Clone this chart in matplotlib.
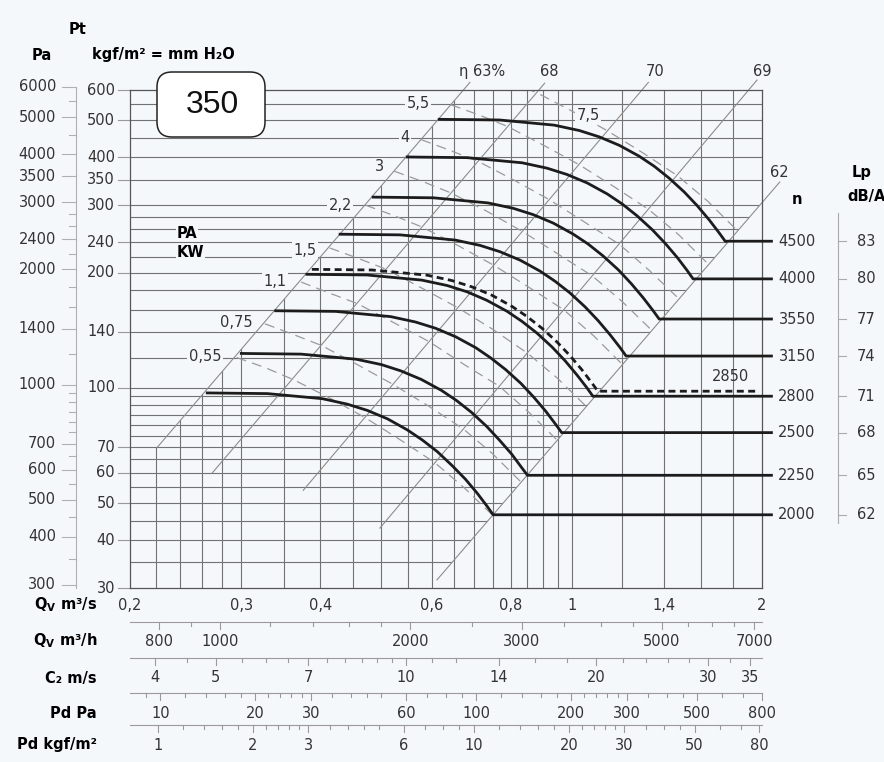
import numpy as np
import matplotlib
matplotlib.use('Agg')
import matplotlib.pyplot as plt
from matplotlib.patches import Polygon, FancyBboxPatch
from matplotlib.transforms import blended_transform_factory

plt.rcParams['font.family'] = 'DejaVu Sans'

W, H = 884, 762
BG = '#f5f8fb'
INK = '#1c1c1c'
TXT = '#333333'
GRID = '#727272'
SCALE = '#9a9a9a'

# --- curvas caracteristicas: Qv [m3/s], Pt [kgf/m2]
rpm = [4500, 4000, 3550, 3150, 2800, 2500, 2250, 2000]
lp_dba = [83, 80, 77, 74, 71, 68, 65, 62]

q_4500 = [0.617, 0.768, 0.938, 1.028, 1.105, 1.189, 1.279, 1.351, 1.426, 1.507,
          1.580, 1.650, 1.711, 1.749]
p_4500 = [503, 501, 485.7, 470.2, 452.7, 430.2, 402.8, 379.1, 353.0, 324.7,
          299.0, 274.7, 254.0, 241.6]
q_4000 = [0.549, 0.683, 0.835, 0.914, 0.983, 1.058, 1.138, 1.202, 1.269, 1.341,
          1.406, 1.469, 1.523, 1.556]
p_4000 = [401, 399.4, 387.2, 374.9, 360.9, 343.0, 321.1, 302.2, 281.4, 258.9,
          238.4, 219.0, 202.5, 192.6]
q_3550 = [0.485, 0.604, 0.737, 0.808, 0.869, 0.935, 1.005, 1.062, 1.121, 1.185,
          1.242, 1.297, 1.345, 1.375]
p_3550 = [315, 313.7, 304.2, 294.5, 283.5, 269.4, 252.2, 237.4, 221.1, 203.4,
          187.2, 172.0, 159.1, 151.3]
q_3150 = [0.430, 0.535, 0.654, 0.716, 0.770, 0.829, 0.891, 0.941, 0.994, 1.050,
          1.101, 1.150, 1.193, 1.219]
p_3150 = [252, 251.0, 243.3, 235.6, 226.8, 215.5, 201.8, 189.9, 176.9, 162.7,
          149.8, 137.6, 127.3, 121.1]
q_2800 = [0.381, 0.474, 0.579, 0.635, 0.683, 0.734, 0.790, 0.834, 0.881, 0.931,
          0.976, 1.019, 1.057, 1.080]
p_2800 = [198, 197.2, 191.2, 185.1, 178.2, 169.3, 158.5, 149.2, 139.0, 127.8,
          117.7, 108.1, 100.0, 95.1]
q_2500 = [0.340, 0.423, 0.517, 0.566, 0.609, 0.655, 0.705, 0.744, 0.786, 0.831,
          0.871, 0.910, 0.943, 0.964]
p_2500 = [159, 158.4, 153.5, 148.6, 143.1, 136.0, 127.3, 119.8, 111.6, 102.7,
          94.5, 86.8, 80.3, 76.4]
q_2250 = [0.300, 0.373, 0.456, 0.500, 0.537, 0.578, 0.622, 0.657, 0.694, 0.733,
          0.768, 0.803, 0.832, 0.851]
p_2250 = [123, 122.5, 118.8, 115.0, 110.7, 105.2, 98.5, 92.7, 86.3, 79.4,
          73.1, 67.2, 62.1, 59.1]
q_2000 = [0.265, 0.330, 0.403, 0.441, 0.475, 0.511, 0.549, 0.580, 0.613, 0.647,
          0.679, 0.709, 0.735, 0.751]
p_2000 = [97, 96.6, 93.7, 90.7, 87.3, 83.0, 77.7, 73.1, 68.1, 62.6,
          57.7, 53.0, 49.0, 46.6]

# curva a 2850 rpm (trazo discontinuo)
q_2850 = [0.388, 0.483, 0.590, 0.646, 0.695, 0.748, 0.804, 0.849, 0.897, 0.948,
          0.994, 1.038, 1.076, 1.100]
p_2850 = [204, 203.2, 197.0, 190.7, 183.6, 174.5, 163.3, 153.7, 143.2, 131.7,
          121.3, 111.4, 103.0, 98.0]

# --- potencia absorbida (kW), lineas discontinuas grises
q_kw055 = [0.295, 0.327, 0.363, 0.414, 0.471, 0.535, 0.607, 0.676, 0.748]
p_kw055 = [120, 113, 105, 94.1, 83.6, 73.2, 63.8, 54.8, 46.6]
q_kw075 = [0.327, 0.362, 0.402, 0.458, 0.522, 0.593, 0.673, 0.750, 0.829]
p_kw075 = [147, 138, 129, 115, 102, 89.7, 78.2, 67.2, 57.0]
q_kw11 = [0.373, 0.413, 0.458, 0.523, 0.595, 0.676, 0.768, 0.855, 0.946]
p_kw11 = [189, 177, 166, 148, 132, 115, 101, 86.4, 73.3]
q_kw15 = [0.414, 0.459, 0.509, 0.580, 0.660, 0.751, 0.852, 0.949, 1.050]
p_kw15 = [232, 218, 204, 182, 162, 142, 123, 106, 90.0]
q_kw22 = [0.472, 0.523, 0.580, 0.662, 0.753, 0.856, 0.971, 1.082, 1.197]
p_kw22 = [300, 282, 263, 235, 209, 183, 160, 137, 116]
q_kw3 = [0.524, 0.581, 0.644, 0.735, 0.836, 0.950, 1.078, 1.202, 1.329]
p_kw3 = [368, 346, 323, 289, 256, 224, 196, 168, 143]
q_kw4 = [0.578, 0.640, 0.710, 0.810, 0.922, 1.048, 1.190, 1.325, 1.466]
p_kw4 = [445, 418, 391, 349, 310, 271, 237, 203, 173]
q_kw55 = [0.644, 0.714, 0.791, 0.903, 1.027, 1.168, 1.325, 1.477, 1.633]
p_kw55 = [549, 516, 482, 430, 383, 335, 292, 251, 213]
q_kw75 = [0.715, 0.792, 0.879, 1.002, 1.140, 1.296, 1.471, 1.639, 1.813]
p_kw75 = [673, 632, 591, 528, 469, 411, 358, 308, 261]

kw_text = ['0,55', '0,75', '1,1', '1,5', '2,2', '3', '4', '5,5', '7,5']
kw_text_q = [0.263, 0.295, 0.339, 0.378, 0.430, 0.497, 0.545, 0.571, 1.062]
kw_text_p = [121, 148, 190, 229, 300, 378, 452, 553, 516]

# --- rendimiento (rectas de sistema)
eta_text = ['\u03b7 63%', '68', '70', '69', '62']
eta_q_lo = [0.221, 0.270, 0.376, 0.497, 0.612]
eta_p_lo = [70, 60, 54, 43, 31.5]
eta_q_hi = [0.690, 0.906, 1.322, 1.964, 2.134]
eta_p_hi = [628, 625, 628, 637, 345]
eta_text_q = [0.721, 0.921, 1.354, 2.0, 2.128]
eta_text_p = [672, 672, 672, 672, 366]

# --- reticula
grid_p = [35, 40, 45, 50, 55, 60, 65, 70, 75, 80, 85, 90, 95, 100, 120, 140, 160,
          180, 200, 220, 240, 260, 280, 300, 350, 400, 450, 500, 550]
grid_q = [0.22, 0.24, 0.26, 0.28, 0.30, 0.35, 0.40, 0.45, 0.50, 0.55, 0.60, 0.65,
          0.70, 0.75, 0.80, 0.85, 0.90, 0.95, 1.0, 1.2, 1.4, 1.6, 1.8]

# --- escalas
kgf_major = [30, 40, 50, 60, 70, 100, 140, 200, 240, 300, 350, 400, 500, 600]
pa_major = [300, 400, 500, 600, 700, 1000, 1400, 2000, 2400, 3000, 3500, 4000, 5000, 6000]
pa_minor = [350, 450, 550, 650, 750, 800, 850, 900, 950, 1200, 1600, 1800, 2200, 2600,
            2800, 4500, 5500]

qs_major = [0.2, 0.3, 0.4, 0.6, 0.8, 1, 1.4, 2]
qs_text = ['0,2', '0,3', '0,4', '0,6', '0,8', '1', '1,4', '2']
qh_major = [800, 1000, 2000, 3000, 5000, 7000]
qh_minor = [900, 1200, 1400, 1600, 1800, 2500, 3500, 4000, 4500, 5500, 6000, 6500]
c2_major = [4, 5, 7, 10, 14, 20, 30, 35]
c2_minor = [4.5, 5.5, 6, 6.5, 7.5, 8, 8.5, 9, 9.5, 11, 12, 16, 18, 22, 24, 26, 28, 32.5]
pdpa_major = [10, 20, 30, 60, 100, 200, 300, 500, 800]
pdpa_minor = [9, 12, 14, 16, 18, 22, 24, 26, 28, 35, 40, 45, 50, 70, 80, 90, 120, 140,
              160, 180, 220, 240, 260, 280, 350, 400, 450, 600, 700]
pdkg_major = [1, 2, 3, 6, 10, 20, 30, 50, 80]
pdkg_minor = [1.2, 1.4, 1.6, 1.8, 2.2, 2.4, 2.6, 2.8, 3.5, 4, 4.5, 5, 7, 8, 9, 12, 14,
              16, 18, 22, 24, 26, 28, 35, 40, 45, 60, 70]

AREA = 0.0547   # seccion de salida, m2
G = 9.81


def q_from_m3h(v):
    return np.asarray(v, float) / 3600.0


def q_from_c2(v):
    return np.asarray(v, float) * AREA


def q_from_pd_pa(v):
    return AREA * np.sqrt(np.asarray(v, float) / 0.6)


def q_from_pd_kgf(v):
    return q_from_pd_pa(np.asarray(v, float) * G)


def fx(px):
    return px / W


def fy(py):
    return 1 - py / H


fig = plt.figure(figsize=(W / 100, H / 100), dpi=100, facecolor=BG)
ax = fig.add_axes([fx(130), fy(588), (762 - 130) / W, (588 - 90) / H])
ax.set_facecolor(BG)
ax.set_xscale('log')
ax.set_yscale('log')
ax.set_xlim(0.2, 2.0)
ax.set_ylim(30, 600)
ax.tick_params(which='both', length=0, labelleft=False, labelbottom=False)
for s in ax.spines.values():
    s.set_color('#555555')
    s.set_linewidth(0.9)

tr_y = blended_transform_factory(fig.transFigure, ax.transData)
tr_x = blended_transform_factory(ax.transData, fig.transFigure)

# reticula recortada por las rectas de 63% y 62%
clip_v = Polygon([(0.15, 10), (0.15, eta_p_lo[0]), (eta_q_lo[0], eta_p_lo[0]),
                  (eta_q_hi[0], eta_p_hi[0]), (5, eta_p_hi[0]), (5, 10)],
                 closed=True, transform=ax.transData)
clip_h = Polygon([(0.1, 10), (0.1, 1000), (eta_q_hi[4], 1000), (eta_q_hi[4], eta_p_hi[4]),
                  (eta_q_lo[4], eta_p_lo[4]), (eta_q_lo[4], 10)],
                 closed=True, transform=ax.transData)
for q in grid_q:
    ln, = ax.plot([q, q], [30, 600], color=GRID, lw=0.8, zorder=1)
    ln.set_clip_path(clip_v)
for p in grid_p:
    ln, = ax.plot([0.2, 2.0], [p, p], color=GRID, lw=0.8, zorder=1)
    ln.set_clip_path(clip_h)

# rectas de rendimiento
for ql, pl, qh, ph, t, tq, tp in zip(eta_q_lo, eta_p_lo, eta_q_hi, eta_p_hi,
                                     eta_text, eta_text_q, eta_text_p):
    ax.plot([ql, qh], [pl, ph], color='#8c8c8c', lw=0.8, zorder=2, clip_on=False)
    ax.text(tq, tp, t, ha='center', va='center', fontsize=10.5, color=TXT)

# lineas de potencia
kw_lines = [(q_kw055, p_kw055), (q_kw075, p_kw075), (q_kw11, p_kw11), (q_kw15, p_kw15),
            (q_kw22, p_kw22), (q_kw3, p_kw3), (q_kw4, p_kw4), (q_kw55, p_kw55),
            (q_kw75, p_kw75)]
for q, p in kw_lines:
    ax.plot(q, p, color='#9a9a9a', lw=0.9, dashes=(8, 5), zorder=2.5)
for t, q, p in zip(kw_text, kw_text_q, kw_text_p):
    ax.text(q, p, t, ha='center', va='center', fontsize=10.5, color=TXT, zorder=5,
            bbox=dict(fc=BG, ec='none', pad=1.0))

# curvas por velocidad de giro
RPM_END_Q = 2.07
curves = [(q_4500, p_4500), (q_4000, p_4000), (q_3550, p_3550), (q_3150, p_3150),
          (q_2800, p_2800), (q_2500, p_2500), (q_2250, p_2250), (q_2000, p_2000)]
for (q, p), n, lp in zip(curves, rpm, lp_dba):
    ax.plot(q + [RPM_END_Q], p + [p[-1]], color=INK, lw=2.0, zorder=4, clip_on=False,
            solid_joinstyle='round')
    ax.text(fx(797), p[-1], str(n), transform=tr_y, ha='center', va='center',
            fontsize=10.5, color=TXT)
    ax.plot([fx(838), fx(846)], [p[-1], p[-1]], transform=tr_y, color='#aaaaaa',
            lw=0.8, clip_on=False)
    ax.text(fx(866), p[-1], str(lp), transform=tr_y, ha='center', va='center',
            fontsize=10.5, color=TXT)
ax.plot(q_2850 + [1.98], p_2850 + [p_2850[-1]], color=INK, lw=2.0, dashes=(2.5, 1.6),
        zorder=4, clip_on=False)
ax.text(1.786, 107, '2850', ha='center', va='center', fontsize=10.5, color=TXT)

# escala Lp
ax.plot([fx(838), fx(838)], [285.6, 44.3], transform=tr_y, color='#aaaaaa', lw=0.8,
        clip_on=False)
fig.text(fx(797), fy(200), 'n', ha='center', va='center', fontsize=10.5, weight='bold')
fig.text(fx(862), fy(172), 'Lp', ha='center', va='center', fontsize=10.5, weight='bold')
fig.text(fx(847), fy(197), 'dB/A', ha='left', va='center', fontsize=10.5, weight='bold')

# escala kgf/m2
for p in kgf_major:
    ax.plot([fx(118), fx(130)], [p, p], transform=tr_y, color='#999999', lw=0.8,
            clip_on=False)
    ax.text(fx(115), p, str(p), transform=tr_y, ha='right', va='center', fontsize=10.5,
            color=TXT)

# escala Pa
ax.plot([fx(76), fx(76)], [30, 6000 / G], transform=tr_y, color='#b0b0b0', lw=0.8,
        clip_on=False)
for v in pa_major:
    ax.plot([fx(62), fx(76)], [v / G, v / G], transform=tr_y, color='#b0b0b0', lw=0.8,
            clip_on=False)
    ax.text(fx(56), v / G, str(v), transform=tr_y, ha='right', va='center',
            fontsize=10.5, color=TXT)
for v in pa_minor:
    ax.plot([fx(69), fx(76)], [v / G, v / G], transform=tr_y, color='#b0b0b0', lw=0.8,
            clip_on=False)

fig.text(fx(78), fy(30), 'Pt', ha='center', va='center', fontsize=10.5, weight='bold')
fig.text(fx(42), fy(55), 'Pa', ha='center', va='center', fontsize=10.5, weight='bold')
fig.text(fx(163), fy(55), 'kgf/m\u00b2 = mm H\u2082O', ha='center', va='center',
         fontsize=10.5, weight='bold')
fig.text(fx(177), fy(233), 'PA', ha='left', va='center', fontsize=10.5, weight='bold',
         bbox=dict(fc=BG, ec='none', pad=0.5))
fig.text(fx(177), fy(252), 'KW', ha='left', va='center', fontsize=10.5, weight='bold',
         bbox=dict(fc=BG, ec='none', pad=0.5))

# recuadro con el tamano
box = FancyBboxPatch((1.57, (H - 137) / 100), 1.08, 0.65,
                     boxstyle='round,pad=0,rounding_size=0.15',
                     transform=fig.dpi_scale_trans, fc='white', ec='#222222', lw=1.1,
                     zorder=10)
fig.add_artist(box)
fig.text(fx(212), fy(105), '350', ha='center', va='center', fontsize=23, zorder=11,
         family='Liberation Sans', color='#111111')


# escalas inferiores
def bottom_scale(y_line, y_lab, q_major, labels, q_minor):
    yl = fy(y_line)
    ax.plot([0.2, 2.0], [yl, yl], transform=tr_x, color=SCALE, lw=0.8, clip_on=False)
    for q in q_major:
        ax.plot([q, q], [yl, yl - 7 / H], transform=tr_x, color=SCALE, lw=0.8,
                clip_on=False)
    for q in q_minor:
        ax.plot([q, q], [yl, yl - 4 / H], transform=tr_x, color=SCALE, lw=0.8,
                clip_on=False)
    for q, s in zip(q_major, labels):
        ax.text(q, fy(y_lab), s, transform=tr_x, ha='center', va='center',
                fontsize=10.5, color=TXT)


for q, s in zip(qs_major, qs_text):
    ax.text(q, fy(605), s, transform=tr_x, ha='center', va='center', fontsize=10.5,
            color=TXT)
bottom_scale(622, 641, q_from_m3h(qh_major), [str(v) for v in qh_major],
             q_from_m3h(qh_minor))
bottom_scale(658, 678, q_from_c2(c2_major), [str(v) for v in c2_major],
             q_from_c2(c2_minor))
bottom_scale(693, 713, q_from_pd_pa(pdpa_major), [str(v) for v in pdpa_major],
             q_from_pd_pa(pdpa_minor))
bottom_scale(725, 745, q_from_pd_kgf(pdkg_major), [str(v) for v in pdkg_major],
             q_from_pd_kgf(pdkg_minor))

row_titles = [(605, 'Q$_{\\mathbf{V}}$ m\u00b3/s'), (641, 'Q$_{\\mathbf{V}}$ m\u00b3/h'),
              (678, 'C\u2082 m/s'), (713, 'Pd Pa'), (745, 'Pd kgf/m\u00b2')]
for py, t in row_titles:
    fig.text(fx(97), fy(py), t, ha='right', va='center', fontsize=10.5, weight='bold')

fig.savefig('out.png', dpi=100, facecolor=BG)
